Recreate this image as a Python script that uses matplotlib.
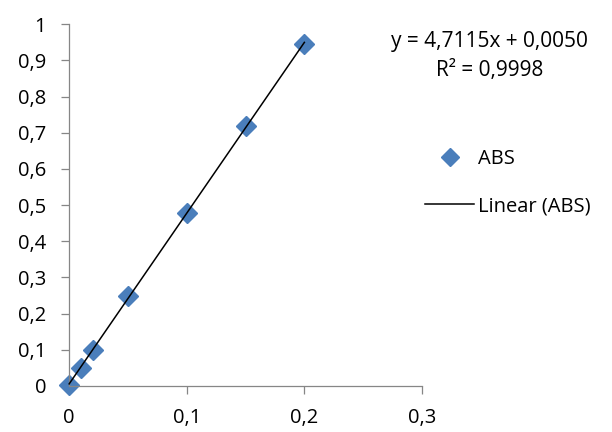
import matplotlib.pyplot as plt
import numpy as np
from matplotlib.ticker import FuncFormatter
from matplotlib.lines import Line2D

plt.rcParams['font.family'] = ['Open Sans', 'DejaVu Sans']

conc = [0, 0.01, 0.02, 0.05, 0.1, 0.15, 0.2]
absorb = [0.003, 0.05, 0.1, 0.248, 0.478, 0.718, 0.945]
eq_text = "y = 4,7115x + 0,0050\nR² = 0,9998"

fig = plt.figure(figsize=(6.12, 4.32), dpi=100)
ax = fig.add_axes([0.113, 0.1065, 0.5765, 0.8375])

slope, icpt = np.polyfit(conc, absorb, 1)
xs = np.array([0, 0.2])
ax.plot(conc, absorb, linestyle='none', marker='D', markersize=10,
        color='#4A7EBB', zorder=2)
ax.plot(xs, slope * xs + icpt, color='black', linewidth=1.1, zorder=3)

ax.set_xlim(0, 0.3)
ax.set_ylim(0, 1)
ax.set_xticks([0, 0.1, 0.2, 0.3])
ax.set_yticks(np.arange(0, 1.01, 0.1))
comma = FuncFormatter(lambda v, p: ('%g' % round(v, 2)).replace('.', ','))
ax.xaxis.set_major_formatter(comma)
ax.yaxis.set_major_formatter(comma)
ax.tick_params(labelsize=14.5, length=5.5, width=0.9, color='#868686')
ax.tick_params(axis='x', pad=10)
ax.tick_params(axis='y', pad=11)
for s in ['top', 'right']:
    ax.spines[s].set_visible(False)
for s in ['left', 'bottom']:
    ax.spines[s].set_color('#868686')
    ax.spines[s].set_linewidth(0.9)
for ln in ax.lines:
    ln.set_clip_on(False)

fig.text(0.80, 0.870, eq_text, ha='center', va='center', fontsize=15,
         linespacing=1.5)

handles = [Line2D([], [], linestyle='none', marker='D', markersize=9,
                  color='#4A7EBB'),
           Line2D([], [], color='black', linewidth=1.1)]
fig.legend(handles, ['ABS', 'Linear (ABS)'], loc='center left',
           bbox_to_anchor=(0.672, 0.577), frameon=False, fontsize=14.5,
           handlelength=2.4, labelspacing=1.35, handletextpad=0.2,
           borderpad=0.2)

fig.savefig('out.png', dpi=100)
